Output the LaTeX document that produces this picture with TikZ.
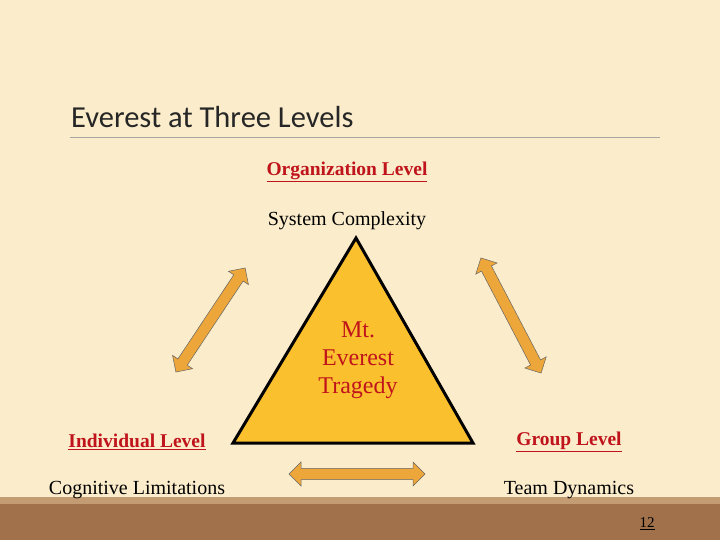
\documentclass[tikz,border=0pt]{standalone}
\usepackage{fontspec}
\setmainfont{Liberation Serif}
\newfontfamily\titlefont{Carlito}
\usetikzlibrary{shapes.arrows}
\definecolor{bg}{HTML}{FBEDCB}
\definecolor{band}{HTML}{A0714A}
\definecolor{bandlight}{HTML}{C49C74}
\definecolor{tri}{HTML}{FBC02D}
\definecolor{arr}{HTML}{EDA63A}
\definecolor{dred}{HTML}{C0141C}
\tikzset{
 lvl/.style={font=\fontsize{19.5}{22}\selectfont\bfseries, text=dred},
 sub/.style={font=\fontsize{20}{22}\selectfont},
 darr/.style={double arrow, draw=black!60, line width=0.5pt, fill=arr, minimum width=24pt, inner sep=0pt, double arrow head extend=6pt, text height=0pt, text depth=0pt, inner ysep=5pt}
}
\begin{document}
\begin{tikzpicture}[x=1pt,y=-1pt]
\fill[bg] (0,0) rectangle (720,540);
\fill[bandlight] (0,497) rectangle (720,504);
\fill[band] (0,504) rectangle (720,540);
\node[anchor=west, font=\titlefont\fontsize{30.5}{34}\selectfont, text=black!85, inner sep=0] (title) at (71,117) {Everest at Three Levels};
\draw[black!35, line width=0.8pt] (70,137) -- (660,137);
\draw[line width=3pt, fill=tri, line join=miter] (356,238) -- (473,443) -- (233,443) -- cycle;
\node[font=\fontsize{24}{28}\selectfont, text=dred, align=center] (mt) at (358,360) {Mt.\\Everest\\Tragedy};
\node[lvl] (org) at (347,172) {\underline{Organization Level}};
\node[sub] (sys) at (347,221) {System Complexity};
\node[lvl] (ind) at (137,442) {\underline{Individual Level}};
\node[sub] (cog) at (137,490) {Cognitive Limitations};
\node[lvl] (grp) at (569,442) {\underline{Group Level}};
\node[sub] (team) at (569,490) {Team Dynamics};
\node[font=\fontsize{15}{17}\selectfont] (pg) at (647,524) {\underline{12}};
\node[darr, minimum height=125pt, rotate=56.4] (a1) at (210.5,320) {};
\node[darr, minimum height=130pt, rotate=-62.4] (a2) at (511,315.5) {};
\node[darr, minimum height=136pt] (a3) at (357,474) {};
\end{tikzpicture}
\end{document}
